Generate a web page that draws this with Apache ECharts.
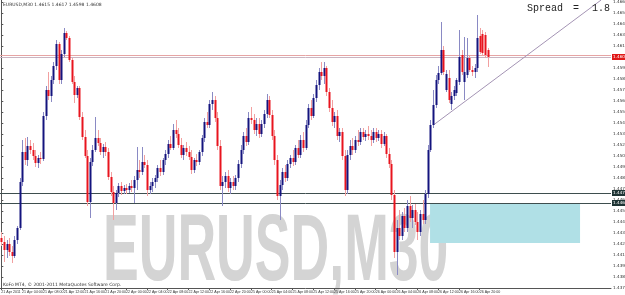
<!DOCTYPE html>
<html><head><meta charset="utf-8">
<script src="https://cdn.jsdelivr.net/npm/echarts@6/dist/echarts.min.js"></script>
<style>html,body{margin:0;padding:0;background:#fff}#c{width:625px;height:295px}</style>
</head><body><div id="c"></div>
<script>
const symbolName = 'EURUSD,M30';
const xLabels = ['21 Apr 2011','21 Apr 04:00','21 Apr 08:00','21 Apr 12:00','21 Apr 16:00','21 Apr 20:00','22 Apr 00:00','22 Apr 04:00','22 Apr 08:00','22 Apr 12:00','22 Apr 16:00','22 Apr 20:00','25 Apr 00:00','25 Apr 04:00','25 Apr 08:00','25 Apr 12:00','25 Apr 16:00','25 Apr 20:00','26 Apr 00:00','26 Apr 04:00','26 Apr 08:00','26 Apr 12:00','26 Apr 16:00','26 Apr 20:00'];
const barsPerLabel = 8;
const slotCount = 235;
const yMin = 1.4377, yMax = 1.4665, yStep = 0.0011;

const opens = [
1.4427,1.4423,1.4415,1.4421,1.4413,1.4409,1.4425,1.4437,1.4483,1.4513,
1.4505,1.4519,1.4515,1.4509,1.4502,1.4507,1.4506,1.4549,1.4575,1.4569,
1.4585,1.4599,1.4621,1.4585,1.4611,1.4632,1.4627,1.4605,1.4583,1.4570,
1.4577,1.4548,1.4528,1.4509,1.4463,1.4503,1.4515,1.4527,1.4522,1.4513,
1.4518,1.4513,1.4488,1.4473,1.4462,1.4472,1.4479,1.4474,1.4477,1.4475,
1.4479,1.4477,1.4485,1.4495,1.4493,1.4503,1.4500,1.4475,1.4479,1.4483,
1.4487,1.4497,1.4493,1.4505,1.4511,1.4521,1.4517,1.4535,1.4531,1.4520,
1.4510,1.4517,1.4513,1.4508,1.4495,1.4505,1.4503,1.4513,1.4527,1.4543,
1.4540,1.4561,1.4565,1.4547,1.4519,1.4479,1.4483,1.4489,1.4477,1.4483,
1.4479,1.4487,1.4501,1.4515,1.4529,1.4523,1.4547,1.4545,1.4535,1.4541,
1.4531,1.4541,1.4551,1.4565,1.4550,1.4529,1.4505,1.4469,1.4480,1.4493,
1.4487,1.4501,1.4507,1.4503,1.4517,1.4510,1.4525,1.4517,1.4540,1.4557,
1.4549,1.4567,1.4580,1.4593,1.4589,1.4597,1.4573,1.4557,1.4543,1.4549,
1.4529,1.4533,1.4509,1.4475,1.4510,1.4519,1.4515,1.4525,1.4523,1.4533,
1.4528,1.4531,1.4529,1.4525,1.4533,1.4527,1.4531,1.4521,1.4529,1.4511,
1.4501,1.4470,1.4413,1.4437,1.4429,1.4449,1.4437,1.4459,1.4447,1.4455,
1.4443,1.4433,1.4451,1.4445,1.4471,1.4515,1.4540,1.4560,1.4585,1.4592,
1.4615,1.4575,1.4587,1.4561,1.4569,1.4572,1.4583,1.4610,1.4583,1.4590,
1.4607,1.4595,1.4593,1.4597,1.4629,1.4631,1.4630,1.4615];
const highs = [
1.4433,1.4429,1.4425,1.4427,1.4419,1.4429,1.4439,1.4487,1.4525,1.4527,
1.4528,1.4525,1.4522,1.4515,1.4510,1.4513,1.4553,1.4579,1.4593,1.4589,
1.4603,1.4625,1.4623,1.4615,1.4637,1.4634,1.4629,1.4607,1.4589,1.4579,
1.4579,1.4553,1.4535,1.4515,1.4507,1.4520,1.4548,1.4535,1.4527,1.4521,
1.4523,1.4517,1.4493,1.4479,1.4475,1.4482,1.4483,1.4480,1.4481,1.4482,
1.4485,1.4489,1.4518,1.4505,1.4518,1.4510,1.4505,1.4483,1.4487,1.4490,
1.4500,1.4505,1.4507,1.4515,1.4525,1.4529,1.4541,1.4545,1.4537,1.4527,
1.4520,1.4523,1.4519,1.4515,1.4507,1.4511,1.4515,1.4530,1.4547,1.4553,
1.4565,1.4573,1.4569,1.4553,1.4525,1.4489,1.4493,1.4495,1.4487,1.4489,
1.4490,1.4505,1.4520,1.4533,1.4537,1.4553,1.4558,1.4551,1.4547,1.4547,
1.4545,1.4555,1.4571,1.4569,1.4555,1.4535,1.4510,1.4485,1.4497,1.4500,
1.4505,1.4510,1.4515,1.4520,1.4525,1.4530,1.4533,1.4545,1.4561,1.4565,
1.4571,1.4585,1.4597,1.4603,1.4603,1.4599,1.4577,1.4565,1.4553,1.4555,
1.4537,1.4537,1.4515,1.4515,1.4525,1.4527,1.4529,1.4535,1.4537,1.4537,
1.4535,1.4539,1.4535,1.4537,1.4537,1.4535,1.4535,1.4533,1.4531,1.4517,
1.4505,1.4475,1.4445,1.4455,1.4453,1.4457,1.4465,1.4469,1.4460,1.4461,
1.4453,1.4455,1.4465,1.4475,1.4520,1.4545,1.4575,1.4590,1.4599,1.4643,
1.4619,1.4595,1.4595,1.4573,1.4579,1.4587,1.4635,1.4615,1.4628,1.4627,
1.4610,1.4599,1.4601,1.4650,1.4637,1.4635,1.4633,1.4617];
const lows = [
1.4419,1.4403,1.4407,1.4409,1.4402,1.4407,1.4421,1.4435,1.4479,1.4500,
1.4499,1.4511,1.4505,1.4498,1.4497,1.4501,1.4504,1.4545,1.4565,1.4563,
1.4581,1.4595,1.4581,1.4581,1.4608,1.4625,1.4603,1.4581,1.4562,1.4567,
1.4545,1.4525,1.4507,1.4459,1.4447,1.4499,1.4513,1.4519,1.4510,1.4507,
1.4509,1.4485,1.4469,1.4445,1.4455,1.4468,1.4470,1.4471,1.4471,1.4472,
1.4473,1.4462,1.4475,1.4487,1.4490,1.4497,1.4469,1.4471,1.4473,1.4477,
1.4483,1.4489,1.4490,1.4500,1.4507,1.4515,1.4515,1.4527,1.4517,1.4507,
1.4505,1.4509,1.4505,1.4491,1.4492,1.4499,1.4500,1.4509,1.4523,1.4537,
1.4537,1.4555,1.4543,1.4515,1.4475,1.4459,1.4477,1.4473,1.4471,1.4475,
1.4475,1.4483,1.4497,1.4511,1.4519,1.4520,1.4541,1.4531,1.4529,1.4527,
1.4528,1.4537,1.4547,1.4547,1.4525,1.4500,1.4465,1.4445,1.4475,1.4483,
1.4484,1.4497,1.4499,1.4500,1.4507,1.4507,1.4513,1.4515,1.4537,1.4545,
1.4547,1.4563,1.4575,1.4585,1.4581,1.4569,1.4553,1.4539,1.4537,1.4525,
1.4523,1.4505,1.4469,1.4471,1.4505,1.4510,1.4512,1.4519,1.4520,1.4525,
1.4524,1.4525,1.4519,1.4522,1.4523,1.4524,1.4517,1.4519,1.4507,1.4497,
1.4465,1.4407,1.4390,1.4425,1.4425,1.4433,1.4433,1.4443,1.4437,1.4440,
1.4425,1.4429,1.4441,1.4441,1.4467,1.4513,1.4537,1.4557,1.4581,1.4590,
1.4590,1.4573,1.4562,1.4555,1.4565,1.4569,1.4580,1.4590,1.4565,1.4587,
1.4593,1.4589,1.4587,1.4593,1.4611,1.4609,1.4607,1.4598];
const closes = [
1.4423,1.4415,1.4421,1.4413,1.4409,1.4425,1.4437,1.4483,1.4513,1.4505,
1.4519,1.4515,1.4509,1.4502,1.4507,1.4506,1.4549,1.4575,1.4569,1.4585,
1.4599,1.4621,1.4585,1.4611,1.4632,1.4627,1.4605,1.4583,1.4570,1.4577,
1.4548,1.4528,1.4509,1.4463,1.4503,1.4515,1.4527,1.4522,1.4513,1.4518,
1.4513,1.4488,1.4473,1.4462,1.4472,1.4479,1.4474,1.4477,1.4475,1.4479,
1.4477,1.4485,1.4495,1.4493,1.4503,1.4500,1.4475,1.4479,1.4483,1.4487,
1.4497,1.4493,1.4505,1.4511,1.4521,1.4517,1.4535,1.4531,1.4520,1.4510,
1.4517,1.4513,1.4508,1.4495,1.4505,1.4503,1.4513,1.4527,1.4543,1.4540,
1.4561,1.4565,1.4547,1.4519,1.4479,1.4483,1.4489,1.4477,1.4483,1.4479,
1.4487,1.4501,1.4515,1.4529,1.4523,1.4547,1.4545,1.4535,1.4541,1.4531,
1.4541,1.4551,1.4565,1.4550,1.4529,1.4505,1.4469,1.4480,1.4493,1.4487,
1.4501,1.4507,1.4503,1.4517,1.4510,1.4525,1.4517,1.4540,1.4557,1.4549,
1.4567,1.4580,1.4593,1.4589,1.4597,1.4573,1.4557,1.4543,1.4549,1.4529,
1.4533,1.4509,1.4475,1.4510,1.4519,1.4515,1.4525,1.4523,1.4533,1.4528,
1.4531,1.4529,1.4525,1.4533,1.4527,1.4531,1.4521,1.4529,1.4511,1.4501,
1.4470,1.4413,1.4437,1.4429,1.4449,1.4437,1.4459,1.4447,1.4455,1.4443,
1.4433,1.4451,1.4445,1.4471,1.4515,1.4540,1.4560,1.4585,1.4592,1.4615,
1.4593,1.4591,1.4565,1.4569,1.4575,1.4585,1.4608,1.4593,1.4593,1.4607,
1.4595,1.4593,1.4597,1.4627,1.4613,1.4612,1.4610,1.4608];

const bidLevel = closes[closes.length - 1];
const upperLine = 1.4610;
const supportLines = [1.4472, 1.4462];
const zone = { x0: 164.9, x1: 222.6, top: 1.4462, bottom: 1.4422 };
const trend = { x0: 166.2, y0: 1.4540, x1: 230.7, y1: 1.4665 };
const spreadText = ['Spread', '=', '1.8'];
const copyright = 'KoFo MT4, \u00a9 2001-2011 MetaQuotes Software Corp.';

const cats = [];
for (let i = 0; i < slotCount; i++) cats.push(i % barsPerLabel === 0 && xLabels[i / barsPerLabel] ? xLabels[i / barsPerLabel] : '');
const labelShown = (idx) => idx % barsPerLabel === 0 && idx / barsPerLabel < xLabels.length;

const candleData = opens.map((o, i) => [i, o, closes[i], lows[i], highs[i]]);

function renderCandle(params, api) {
  const i = api.value(0), o = api.value(1), c = api.value(2), l = api.value(3), h = api.value(4);
  const po = api.coord([i, o]), pc = api.coord([i, c]), pl = api.coord([i, l]), ph = api.coord([i, h]);
  const bull = c >= o;
  const x = Math.round(po[0]);
  const top = Math.min(po[1], pc[1]), bot = Math.max(po[1], pc[1]);
  return { type: 'group', children: [
    { type: 'line', shape: { x1: x + 0.5, y1: ph[1], x2: x + 0.5, y2: pl[1] },
      style: { stroke: bull ? '#8a8ac4' : '#f2a0a0', lineWidth: 1 } },
    { type: 'rect', shape: { x: x - 0.5, y: top, width: 2, height: Math.max(1, bot - top) },
      style: { fill: bull ? '#14147e' : '#e8141e' } }
  ]};
}

const levelLabel = (bg) => ({ show: true, position: 'end', distance: 1, formatter: p => p.value.toFixed(4),
  fontSize: 4.2, color: '#fff', backgroundColor: bg, padding: [1, 1], fontFamily: 'DejaVu Sans' });

const last = candleData[candleData.length - 1];
const chart = echarts.init(document.getElementById('c'), null, { renderer: 'canvas' });
chart.setOption({
  animation: false,
  backgroundColor: '#ffffff',
  grid: { left: 0, right: 14, top: 0, bottom: 7, containLabel: false, outerBoundsMode: 'none' },
  xAxis: [
    { type: 'value', min: -0.5, max: slotCount - 0.5, show: false },
    { type: 'category', data: cats, boundaryGap: true, position: 'bottom',
      axisLine: { show: true, lineStyle: { color: '#555' } },
      axisTick: { show: true, length: 2, interval: labelShown, alignWithLabel: true, lineStyle: { color: '#555' } },
      axisLabel: { interval: labelShown, hideOverlap: false, fontSize: 3.6, color: '#333', align: 'left', margin: 2, fontFamily: 'Liberation Sans' },
      splitLine: { show: false } }
  ],
  yAxis: { type: 'value', position: 'right', min: yMin, max: yMax, interval: yStep,
    axisLine: { show: true, lineStyle: { color: '#555' } },
    axisTick: { show: true, length: 2, lineStyle: { color: '#555' } },
    axisLabel: { fontSize: 4.2, color: '#333', margin: 2, fontFamily: 'DejaVu Sans', formatter: v => v.toFixed(4) },
    splitLine: { show: false } },
  graphic: [
    { type: 'text', x: 103, y: 254, scaleX: 0.57, z: -10, silent: true,
      style: { text: symbolName, font: 'bold 94px "Liberation Sans"', fill: '#d4d4d4', verticalAlign: 'middle' } },
    { type: 'text', x: 3, y: 2, z: 10,
      style: { text: symbolName + ' ' + [last[1], last[4], last[3], last[2]].map(v => v.toFixed(4)).join(' '), fontSize: 4.5, fill: '#333', fontFamily: 'DejaVu Sans' } },
    { type: 'text', x: 3, y: 282, z: 10,
      style: { text: copyright, fontSize: 4.5, fill: '#333', fontFamily: 'DejaVu Sans' } },
    { type: 'text', x: 563, y: 3, z: 10, style: { text: spreadText[0], font: '10px "Liberation Mono"', fill: '#222', align: 'right' } },
    { type: 'text', x: 576, y: 3, z: 10, style: { text: spreadText[1], font: '10px "Liberation Mono"', fill: '#222', align: 'center' } },
    { type: 'text', x: 610, y: 3, z: 10, style: { text: spreadText[2], font: '10px "Liberation Mono"', fill: '#222', align: 'right' } }
  ],
  series: [
    { type: 'line', xAxisIndex: 0, yAxisIndex: 0, data: [], silent: true,
      markArea: { silent: true, itemStyle: { color: '#b0e0e6' },
        data: [[{ xAxis: zone.x0, yAxis: zone.top }, { xAxis: zone.x1, yAxis: zone.bottom }]] },
      markLine: { silent: true, symbol: ['none', 'none'], precision: 4, animation: false,
        label: { show: false },
        data: [
          { yAxis: upperLine, lineStyle: { color: '#e6a4a4', width: 1, type: 'solid' } },
          { yAxis: bidLevel, lineStyle: { color: '#c9b4c2', width: 1, type: 'solid' }, label: levelLabel('#e01818') },
          { yAxis: supportLines[0], lineStyle: { color: '#3e4e4e', width: 1, type: 'solid' }, label: levelLabel('#1e3434') },
          { yAxis: supportLines[1], lineStyle: { color: '#3e4e4e', width: 1, type: 'solid' }, label: levelLabel('#1e3434') },
          [ { coord: [trend.x0, trend.y0], lineStyle: { color: '#a494b4', width: 1, type: 'solid' } }, { coord: [trend.x1, trend.y1] } ]
        ] } },
    { type: 'custom', xAxisIndex: 0, yAxisIndex: 0, renderItem: renderCandle, data: candleData,
      encode: { x: 0, y: [1, 2, 3, 4] }, clip: true, z: 5 }
  ]
});
</script></body></html>
